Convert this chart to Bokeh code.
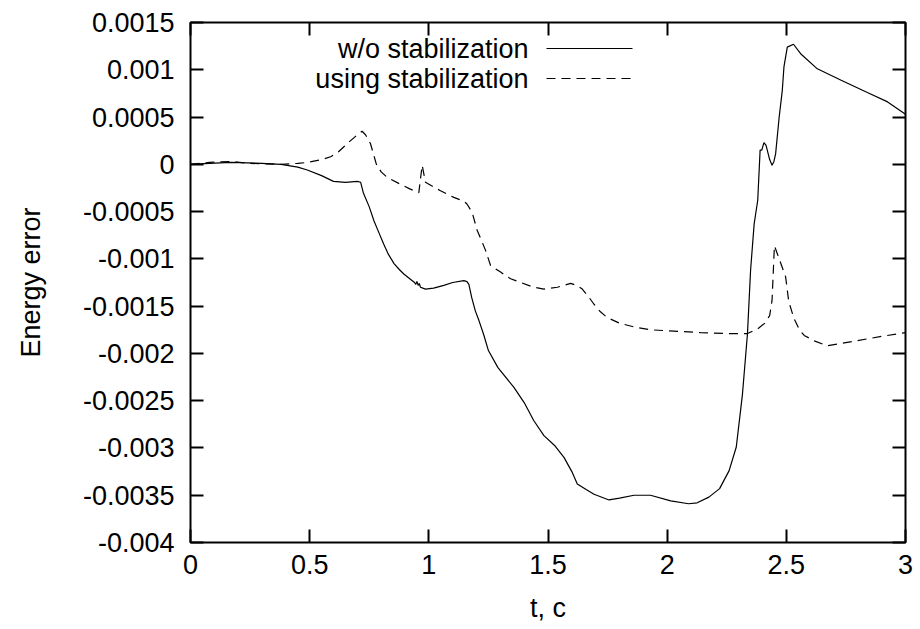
from bokeh.plotting import figure
from bokeh.models import Range1d, FixedTicker, LinearAxis, Label, Arrow
from bokeh.embed import file_html
from bokeh.resources import INLINE

# ---- data ----
t_nostab = [0.0, 0.08, 0.17, 0.3, 0.38, 0.45, 0.49, 0.55, 0.60, 0.65, 0.70, 0.714,
            0.725, 0.75, 0.77, 0.79, 0.81, 0.83, 0.854, 0.875, 0.895, 0.92, 0.94,
            0.945, 0.95, 0.955, 0.96, 0.965, 0.975, 0.986, 1.02, 1.063, 1.10, 1.147,
            1.16, 1.168, 1.18, 1.195, 1.21, 1.23, 1.25, 1.29, 1.357, 1.40, 1.44,
            1.483, 1.53, 1.567, 1.60, 1.623, 1.66, 1.693, 1.756, 1.80, 1.861, 1.93,
            2.015, 2.09, 2.126, 2.175, 2.22, 2.26, 2.29, 2.316, 2.337, 2.35, 2.365,
            2.38, 2.39, 2.397, 2.406, 2.415, 2.43, 2.44, 2.448, 2.455, 2.47, 2.483,
            2.49, 2.504, 2.53, 2.56, 2.63, 2.73, 2.84, 2.925, 3.0]
e_nostab = [0.0, 0.00001, 0.00002, 0.00001, 0.0, -0.00003, -0.00006, -0.00012,
            -0.00018, -0.00019, -0.00018, -0.00019, -0.00030, -0.00045, -0.00060,
            -0.00072, -0.00084, -0.00095, -0.00105, -0.00111, -0.00116, -0.00121,
            -0.00125, -0.00127, -0.00124, -0.00128, -0.00126, -0.00130, -0.00131,
            -0.00132, -0.00131, -0.00128, -0.00125, -0.00123, -0.00124, -0.00127,
            -0.00141, -0.00155, -0.00165, -0.00180, -0.00197, -0.00215, -0.00236,
            -0.00252, -0.00271, -0.00287, -0.00298, -0.00310, -0.00325, -0.00338,
            -0.00344, -0.00349, -0.00355, -0.00353, -0.00350, -0.00350, -0.00356,
            -0.00359, -0.00358, -0.00352, -0.00343, -0.00324, -0.00299, -0.00243,
            -0.00179, -0.00112, -0.00063, -0.00038, 0.00015, 0.00015, 0.00023,
            0.00020, 0.00005, -0.00001, 0.00003, 0.00011, 0.00050, 0.00078, 0.00103,
            0.00124, 0.00127, 0.00117, 0.00101, 0.00089, 0.00076, 0.00066, 0.00053]

t_stab = [0.0, 0.08, 0.168, 0.25, 0.38, 0.45, 0.49, 0.55, 0.588, 0.62, 0.658, 0.69,
          0.72, 0.735, 0.755, 0.78, 0.80, 0.826, 0.88, 0.92, 0.958, 0.972, 0.986,
          1.049, 1.105, 1.147, 1.16, 1.182, 1.203, 1.22, 1.238, 1.259, 1.301, 1.343,
          1.385, 1.44, 1.483, 1.539, 1.595, 1.62, 1.644, 1.67, 1.693, 1.72, 1.748,
          1.80, 1.861, 1.93, 2.0, 2.14, 2.25, 2.337, 2.38, 2.41, 2.43, 2.44, 2.45,
          2.47, 2.497, 2.51, 2.532, 2.555, 2.575, 2.62, 2.672, 2.785, 2.90, 3.0]
e_stab = [0.0, 0.00002, 0.00003, 0.00001, 0.0, 0.00001, 0.00002, 0.00005, 0.00008,
          0.00013, 0.00022, 0.00029, 0.00035, 0.00031, 0.00022, 0.0, -0.00008,
          -0.00014, -0.00021, -0.00026, -0.00030, -0.00001, -0.00019, -0.00028,
          -0.00035, -0.00039, -0.00042, -0.00051, -0.00070, -0.00080, -0.00091,
          -0.00107, -0.00114, -0.00121, -0.00125, -0.00130, -0.00132, -0.00130,
          -0.00126, -0.00128, -0.00132, -0.00140, -0.00148, -0.00156, -0.00162,
          -0.00168, -0.00172, -0.00175, -0.00176, -0.00178, -0.00179, -0.00179,
          -0.00174, -0.00168, -0.00160, -0.00144, -0.00086, -0.00100, -0.00119,
          -0.00145, -0.00163, -0.00175, -0.00181, -0.00187, -0.00192, -0.00187,
          -0.00182, -0.00178]

x_ticks = [0, 0.5, 1, 1.5, 2, 2.5, 3]
x_tick_labels = ["0", "0.5", "1", "1.5", "2", "2.5", "3"]
y_ticks = [0.0015, 0.001, 0.0005, 0.0, -0.0005, -0.001, -0.0015, -0.002,
           -0.0025, -0.003, -0.0035, -0.004]
y_tick_labels = ["0.0015", "0.001", "0.0005", "0", "-0.0005", "-0.001", "-0.0015",
                 "-0.002", "-0.0025", "-0.003", "-0.0035", "-0.004"]
series_names = ["w/o stabilization", "using stabilization"]
x_title = "t, c"
y_title = "Energy error"

FONT = "Liberation Sans"
FS = "27px"

p = figure(width=920, height=629, output_backend="svg", toolbar_location=None,
           x_range=Range1d(0, 3), y_range=Range1d(-0.004, 0.0015),
           min_border_left=190, min_border_right=15, min_border_top=22,
           min_border_bottom=87)
p.background_fill_color = "white"
p.border_fill_color = "white"
p.outline_line_color = "black"
p.outline_line_width = 2
p.grid.visible = False

def style_axis(ax, ticks, labels, show_labels=True):
    ax.ticker = FixedTicker(ticks=ticks)
    if show_labels:
        ax.major_label_overrides = {float(v): s for v, s in zip(ticks, labels)}
    else:
        ax.major_label_overrides = {float(v): "" for v in ticks}
        ax.major_label_standoff = 0
    ax.axis_line_color = None
    ax.major_tick_in = 13
    ax.major_tick_out = 0
    ax.major_tick_line_width = 2
    ax.major_tick_line_color = "black"
    ax.minor_tick_line_color = None
    ax.major_label_text_font = FONT
    ax.major_label_text_font_size = FS
    ax.major_label_text_color = "black"
    ax.axis_label_text_font = FONT
    ax.axis_label_text_font_size = FS
    ax.axis_label_text_font_style = "normal"
    ax.axis_label_text_color = "black"

xa = p.xaxis[0]
style_axis(xa, x_ticks, x_tick_labels)
xa.major_label_standoff = 12
xa.axis_label = x_title
xa.axis_label_standoff = 16

ya = p.yaxis[0]
style_axis(ya, y_ticks, y_tick_labels)
ya.major_label_standoff = 16
ya.axis_label = y_title
ya.axis_label_standoff = 34

top = LinearAxis()
style_axis(top, x_ticks, x_tick_labels, show_labels=False)
p.add_layout(top, "above")
right = LinearAxis()
style_axis(right, y_ticks, y_tick_labels, show_labels=False)
p.add_layout(right, "right")

p.line(t_nostab, e_nostab, line_color="black", line_width=1.2)
p.line(t_stab, e_stab, line_color="black", line_width=1.2, line_dash="9 6")

# legend (gnuplot style: text left, sample right), frame-relative screen units
rows = [(494, "solid"), (464, "9 6")]
for name, (yy, dash) in zip(series_names, rows):
    p.add_layout(Label(x=338, y=yy, x_units="screen", y_units="screen", text=name,
                       text_align="right", text_baseline="middle",
                       text_font=FONT, text_font_size=FS, text_color="black"))
    p.add_layout(Arrow(end=None, x_start=356, y_start=yy, x_end=442, y_end=yy,
                       start_units="screen", end_units="screen",
                       line_color="black", line_width=1.2, line_dash=dash))

open("out.html", "w").write(file_html(p, INLINE))
